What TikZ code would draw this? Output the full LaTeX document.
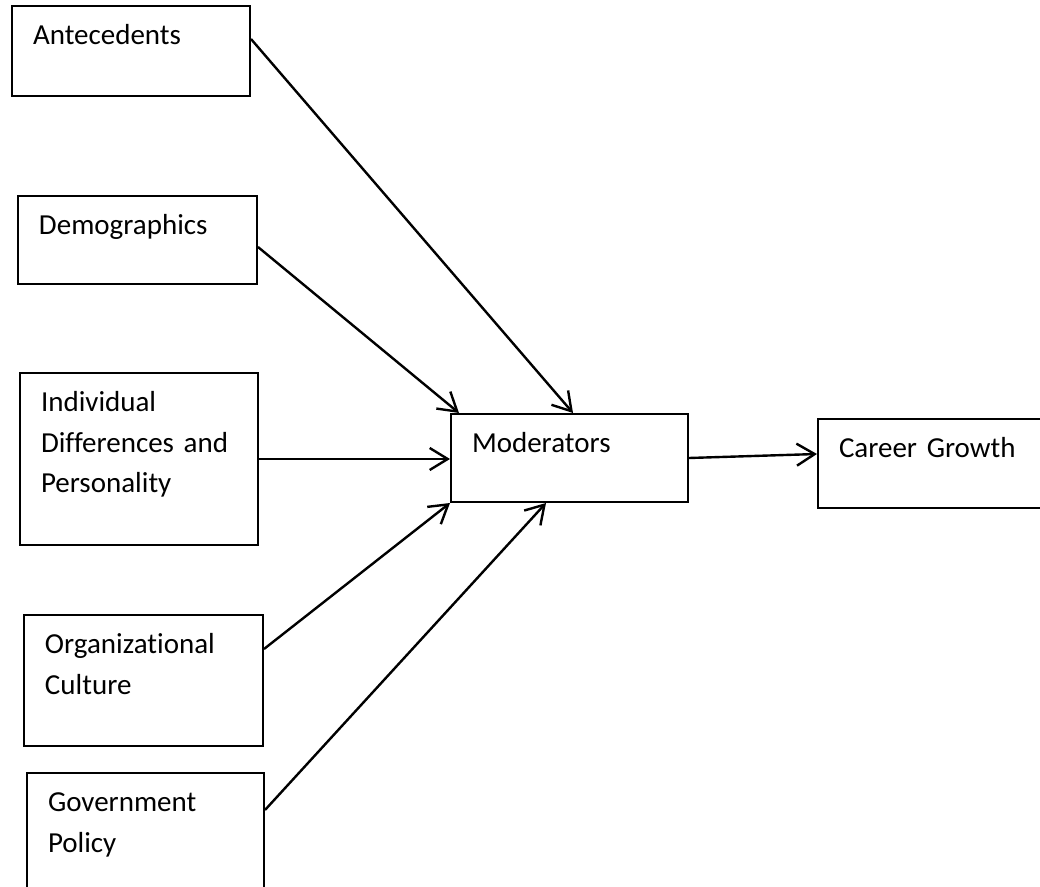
\documentclass[tikz,border=0pt]{standalone}
\usepackage{fontspec}
\setmainfont{Carlito}[Ligatures=NoCommon, WordSpace=0.8]
\usetikzlibrary{arrows.meta,positioning}
\tikzset{
  caixa/.style={draw, line width=1pt, align=left, anchor=north west,
                inner sep=0pt, inner xsep=10.5pt, text height=19.5pt,
                font=\fontsize{14.5pt}{20.25pt}\selectfont},
  seta/.style={-{Straight Barb[length=9pt,width=11pt]}, line width=1.2pt},
}

\begin{document}
\begin{tikzpicture}
  \useasboundingbox (0,0) rectangle (520pt,-443.5pt);

  % Coluna de fatores
  \node[caixa, text width=98pt, text depth=25.5pt] (ante) at (5.5pt,-2.5pt)
    {Antecedents};
  \node[caixa, below=49pt of ante.south west, anchor=north west, xshift=3pt,
        text width=98.5pt, text depth=24.5pt] (demo)
    {Demographics};
  \node[caixa, below=43.5pt of demo.south west, anchor=north west, xshift=1pt,
        text width=98pt, text depth=66.5pt] (indiv)
    {Individual\\Differences and\\Personality};
  \node[caixa, below=34pt of indiv.south west, anchor=north west, xshift=2pt,
        text width=98.5pt, text depth=46pt] (org)
    {Organizational\\Culture};
  \node[caixa, below=12.5pt of org.south west, anchor=north west, xshift=1.5pt,
        text width=97.5pt, text depth=60pt] (gov)
    {Government\\Policy};

  % Moderadores e resultado
  \node[caixa, right=95.5pt of indiv.north east, anchor=north west, yshift=-20.5pt,
        text width=97.5pt, text depth=24.5pt] (mod)
    {Moderators};
  \node[caixa, right=64pt of mod.north east, anchor=north west, yshift=-2.5pt,
        text width=150pt, text depth=25pt] (career)
    {Career Growth};

  % Setas
  \draw[seta] ([yshift=-17pt]ante.north east) -- ([xshift=1.75pt]mod.north);
  \draw[seta] ([yshift=-26pt]demo.north east) -- ([xshift=4.5pt]mod.north west);
  \draw[seta] (indiv.east) -- (indiv.east -| mod.west);
  \draw[seta] ([yshift=-17.5pt]org.north east) -- (mod.south west);
  \draw[seta] ([yshift=-19pt]gov.north east) -- ([xshift=-11.75pt]mod.south);
  \draw[seta] (mod.east) -- ([yshift=4.75pt]career.west);
\end{tikzpicture}
\end{document}
